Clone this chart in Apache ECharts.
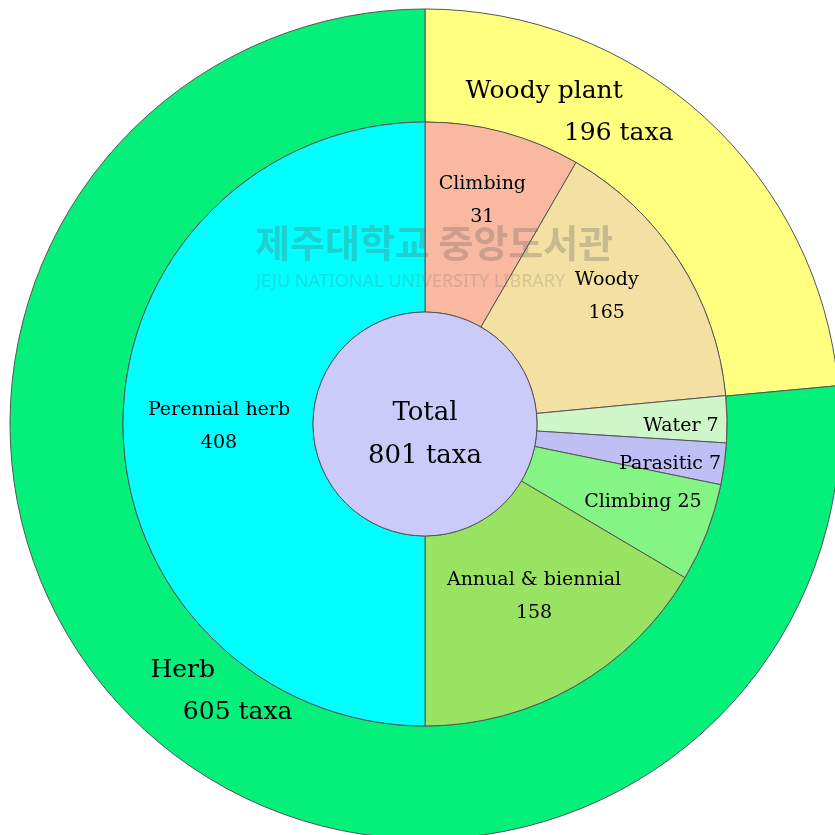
<!DOCTYPE html>
<html>
<head>
<meta charset="utf-8">
<title>Taxa by life form</title>
<script src="https://cdn.jsdelivr.net/npm/echarts@6/dist/echarts.min.js"></script>
<style>
  html, body { margin: 0; padding: 0; background: #fff; }
  #chart { width: 835px; height: 835px; }
</style>
</head>
<body>
<div id="chart"></div>
<script>
// outer ring: main groups
const groupNames = ['Woody plant', 'Herb'];
const groupCounts = [196, 605];
// slice sizes as drawn in the figure (degrees) - the figure is not to scale with the counts
const groupDrawn = [84.7, 275.3];

// inner ring, clockwise from 12 o'clock
const formNames = ['Climbing', 'Woody', 'Water', 'Parasitic', 'Climbing', 'Annual & biennial', 'Perennial herb'];
const formCounts = [31, 165, 7, 7, 25, 158, 408];
const formDrawn = [30, 54.6, 9, 8, 19, 59.4, 180];

const totalCount = 801;

// styling
const serif = '"DejaVu Serif", "Liberation Serif", serif';
const groupColors = ['#ffff80', '#05f07a'];
const formColors = ['#f9b9a0', '#f4e0a2', '#cff6c8', '#bfbff6', '#84f584', '#98e462', '#00ffff'];
const formOneLine = [false, false, true, true, true, false, false];
const formLabelOffset = [[3, -21], [5, -14], [46, 5], [37, 12], [22, 2], [5, -10], [4, 3]];
const groupLabelOffset = [[-99, -44], [40, 0]];
const groupLabelWidth = [208, 142];

const chart = echarts.init(document.getElementById('chart'));
const center = [425, 424];
const border = { borderColor: '#555', borderWidth: 1 };

const innerData = formNames.map((name, i) => ({
  name: name,
  value: formDrawn[i],
  itemStyle: Object.assign({ color: formColors[i] }, border),
  label: {
    offset: formLabelOffset[i],
    formatter: formOneLine[i] ? name + ' ' + formCounts[i] : name + '\n' + formCounts[i]
  }
}));

const outerData = groupNames.map((name, i) => ({
  name: name,
  value: groupDrawn[i],
  itemStyle: Object.assign({ color: groupColors[i] }, border),
  label: {
    offset: groupLabelOffset[i],
    formatter: '{a|' + name + '}\n{b|' + groupCounts[i] + ' taxa}',
    rich: {
      a: { width: groupLabelWidth[i], align: 'left', fontSize: 25, lineHeight: 42, fontFamily: serif, color: '#000' },
      b: { width: groupLabelWidth[i], align: 'right', fontSize: 25, lineHeight: 42, fontFamily: serif, color: '#000' }
    }
  }
}));

const option = {
  animation: false,
  backgroundColor: '#fff',
  textStyle: { fontFamily: serif },
  series: [
    {
      type: 'pie',
      center: center,
      radius: [302, 415],
      startAngle: 90,
      silent: true,
      avoidLabelOverlap: false,
      label: { position: 'inside', color: '#000' },
      labelLine: { show: false },
      data: outerData
    },
    {
      type: 'pie',
      center: center,
      radius: [112, 302],
      startAngle: 90,
      silent: true,
      avoidLabelOverlap: false,
      label: { position: 'inside', color: '#000', fontFamily: serif, fontSize: 19, lineHeight: 33 },
      labelLine: { show: false },
      data: innerData
    },
    {
      type: 'pie',
      center: center,
      radius: [0, 112],
      silent: true,
      label: {
        position: 'center', color: '#000', fontFamily: serif,
        fontSize: 26, lineHeight: 43,
        offset: [0, 11],
        formatter: 'Total\n' + totalCount + ' taxa'
      },
      labelLine: { show: false },
      itemStyle: Object.assign({ color: '#cbcbf9' }, border),
      data: [{ name: 'Total', value: totalCount }]
    }
  ],
  // faint library watermark from the scanned figure
  graphic: [
    {
      type: 'text', left: 255, top: 224, z: 100, silent: true,
      style: { text: '제주대학교 중앙도서관', font: 'bold 38px "Noto Sans CJK KR"', fill: 'rgba(100,100,100,0.3)' }
    },
    {
      type: 'text', left: 256, top: 273, z: 100, silent: true,
      style: { text: 'JEJU NATIONAL UNIVERSITY LIBRARY', font: '18px "Noto Sans"', fill: 'rgba(100,100,100,0.22)' }
    }
  ]
};

chart.setOption(option);
</script>
</body>
</html>
